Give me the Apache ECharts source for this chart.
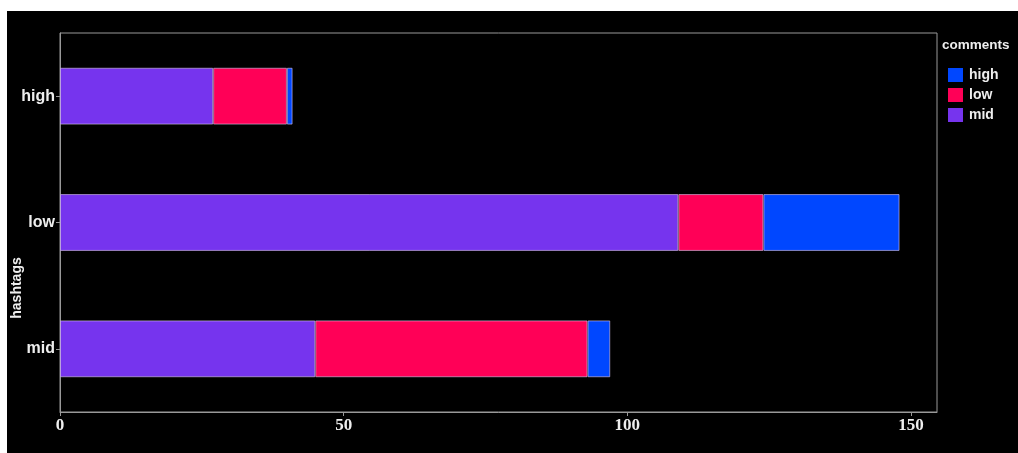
<!DOCTYPE html>
<html>
<head>
<meta charset="utf-8">
<script src="https://cdn.jsdelivr.net/npm/echarts@6/dist/echarts.min.js"></script>
<style>
html,body{margin:0;padding:0;background:#fff;}
#chart{width:1018px;height:453px;}
</style>
</head>
<body>
<div id="chart"></div>
<script>
const categories = ['high', 'low', 'mid'];
const seriesNames = ['mid', 'low', 'high'];
const midValues = [27, 109, 45];
const lowValues = [13, 15, 48];
const highValues = [1, 24, 4];
const xTicks = [0, 50, 100, 150];
const legendOrder = ['high', 'low', 'mid'];
const colors = { high: '#0047ff', low: '#ff0057', mid: '#7634ee' };
const valuesByName = { mid: midValues, low: lowValues, high: highValues };

const chart = echarts.init(document.getElementById('chart'), null, { renderer: 'canvas' });
const labelSans = "'Liberation Sans', Arial, sans-serif";
const labelSerif = "'Liberation Serif', 'DejaVu Serif', serif";

chart.setOption({
  backgroundColor: '#fff',
  animation: false,
  graphic: [
    { type: 'rect', z: -10, shape: { x: 7, y: 11, width: 1011, height: 442 }, style: { fill: '#000' } },
    { type: 'text', left: 942, top: 38, style: { text: 'comments', fill: '#eee', font: "bold 13.5px " + labelSans } },
    { type: 'text', x: 17, y: 288, rotation: Math.PI / 2, style: { text: 'hashtags', fill: '#eee', font: "bold 14px " + labelSans, align: 'center', verticalAlign: 'middle' } }
  ],
  legend: {
    data: legendOrder,
    orient: 'vertical',
    left: 948,
    top: 68,
    padding: 0,
    itemWidth: 15,
    itemHeight: 14,
    itemGap: 6,
    icon: 'rect',
    itemStyle: { borderWidth: 0 },
    textStyle: { color: '#eee', fontWeight: 'bold', fontSize: 14, fontFamily: labelSans, padding: [0, 0, 0, 1] }
  },
  grid: {
    left: 60, top: 33, right: 81, bottom: 41,
    show: true, borderColor: '#999', borderWidth: 1, backgroundColor: 'transparent'
  },
  xAxis: {
    type: 'value',
    min: 0,
    max: 154.6,
    interval: 50,
    splitLine: { show: false },
    axisLine: { show: true, lineStyle: { color: '#999' } },
    axisTick: { show: true, length: 4, lineStyle: { color: '#999' }, customValues: xTicks },
    axisLabel: { color: '#eee', fontFamily: labelSerif, fontWeight: 'bold', fontSize: 17, margin: 5, customValues: xTicks }
  },
  yAxis: {
    type: 'category',
    data: categories,
    inverse: true,
    axisLine: { show: true, lineStyle: { color: '#999' } },
    axisTick: { show: true, alignWithLabel: true, length: 4, lineStyle: { color: '#999' } },
    axisLabel: { color: '#eee', fontFamily: labelSans, fontWeight: 'bold', fontSize: 16, margin: 5 },
    splitLine: { show: false }
  },
  series: seriesNames.map(name => ({
    name: name,
    type: 'bar',
    stack: 'total',
    barWidth: '45%',
    data: valuesByName[name],
    itemStyle: { color: colors[name], borderColor: 'rgba(220,200,240,0.6)', borderWidth: 1 }
  }))
});
</script>
</body>
</html>
